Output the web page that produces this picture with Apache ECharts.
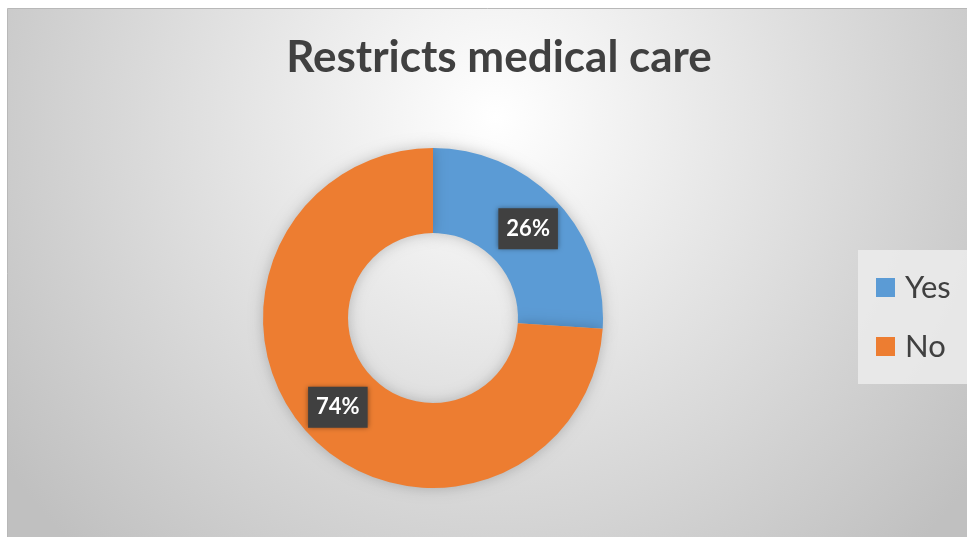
<!DOCTYPE html>
<html>
<head>
<meta charset="utf-8">
<title>Restricts medical care</title>
<script src="https://cdn.jsdelivr.net/npm/echarts@6/dist/echarts.min.js"></script>
<style>
  html, body { margin: 0; padding: 0; background: #ffffff; }
  #chart { width: 967px; height: 537px; }
</style>
</head>
<body>
<div id="chart"></div>
<script>
// Survey answers: share of respondents (percent)
const categories = ['Yes', 'No'];
const values = [26, 74];
const sliceColors = ['#5b9bd5', '#ed7d31'];
const chartTitle = 'Restricts medical care';

const FONT = 'Lato, "Open Sans", "DejaVu Sans", sans-serif';

const chart = echarts.init(document.getElementById('chart'), null, { renderer: 'canvas' });

chart.setOption({
  backgroundColor: '#ffffff',
  animation: false,
  color: sliceColors,
  graphic: [{
    type: 'rect',
    z: 0,
    silent: true,
    shape: { x: 7.5, y: 8.5, width: 975, height: 545 },
    style: {
      fill: {
        type: 'radial', x: 0.5, y: 0.2, r: 1.1,
        colorStops: [
          { offset: 0, color: '#ffffff' },
          { offset: 1, color: '#c0c0c0' }
        ]
      },
      stroke: '#b8b8b8',
      lineWidth: 1
    }
  }],
  title: {
    text: chartTitle,
    left: 494,
    top: 31,
    textAlign: 'center',
    textStyle: {
      fontFamily: FONT,
      fontWeight: 'bold',
      fontSize: 44,
      color: '#404040'
    }
  },
  legend: {
    orient: 'vertical',
    left: 858,
    top: 250,
    padding: [22, 30, 22, 18],
    backgroundColor: 'rgba(236,236,236,0.85)',
    itemWidth: 19,
    itemHeight: 19,
    itemGap: 28,
    icon: 'rect',
    data: categories,
    textStyle: {
      fontFamily: FONT,
      fontSize: 31,
      color: '#404040',
      padding: [0, 0, 0, 5]
    }
  },
  series: [{
    type: 'pie',
    center: [433, 318],
    radius: [85, 170],
    startAngle: 90,
    clockwise: true,
    avoidLabelOverlap: false,
    itemStyle: {
      shadowBlur: 14,
      shadowColor: 'rgba(0,0,0,0.22)'
    },
    label: {
      show: true,
      position: 'inside',
      formatter: '{c}%',
      fontFamily: FONT,
      fontWeight: 'bold',
      fontSize: 22,
      color: '#ffffff',
      backgroundColor: '#404040',
      padding: [10, 8, 9, 8],
      shadowBlur: 5,
      shadowColor: 'rgba(0,0,0,0.45)'
    },
    labelLine: { show: false },
    emphasis: { disabled: true },
    data: categories.map((name, i) => ({ name: name, value: values[i] }))
  }]
});
</script>
</body>
</html>
